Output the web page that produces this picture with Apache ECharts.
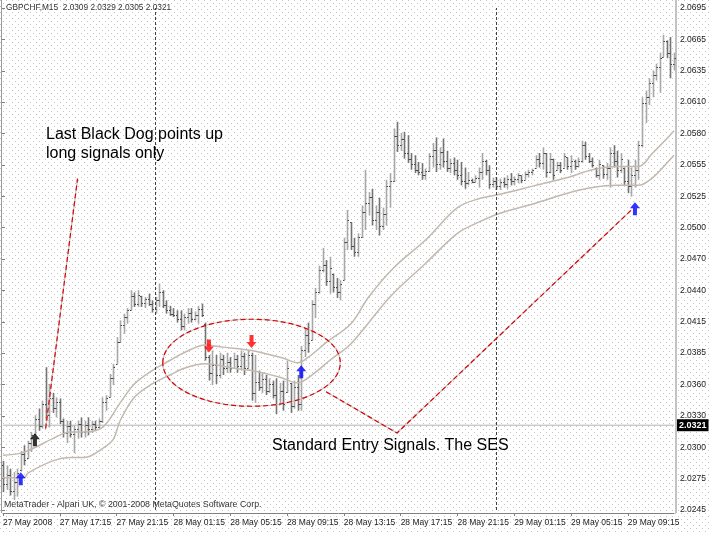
<!DOCTYPE html>
<html><head><meta charset="utf-8">
<script src="https://cdn.jsdelivr.net/npm/echarts@6/dist/echarts.min.js"></script>
<style>html,body{margin:0;padding:0;background:#fff}#c{width:710px;height:533px}</style>
</head><body><div id="c"></div>
<script>
// ---- data (GBPCHF M15, 27 May 2008 13:15 onward) ----
const opens = [
2.0285,2.0268,2.0276,2.0262,2.0270,2.0281,2.0295,2.0292,2.0305,2.0313,
2.0327,2.0320,2.0340,2.0330,2.0345,2.0336,2.0342,2.0325,2.0314,2.0320,
2.0313,2.0318,2.0322,2.0315,2.0321,2.0318,2.0322,2.0319,2.0325,2.0342,
2.0346,2.0363,2.0376,2.0396,2.0411,2.0418,2.0424,2.0437,2.0430,2.0437,
2.0431,2.0434,2.0430,2.0425,2.0433,2.0440,2.0429,2.0424,2.0421,2.0420,
2.0416,2.0410,2.0418,2.0422,2.0416,2.0420,2.0425,2.0412,2.0382,2.0368,
2.0375,2.0366,2.0380,2.0372,2.0378,2.0372,2.0380,2.0374,2.0383,2.0372,
2.0384,2.0350,2.0360,2.0355,2.0362,2.0352,2.0358,2.0348,2.0340,2.0352,
2.0351,2.0359,2.0338,2.0355,2.0340,2.0388,2.0402,2.0397,2.0430,2.0440,
2.0460,2.0465,2.0450,2.0457,2.0445,2.0440,2.0451,2.0485,2.0503,2.0482,
2.0476,2.0490,2.0512,2.0520,2.0526,2.0505,2.0512,2.0500,2.0510,2.0535,
2.0540,2.0580,2.0572,2.0578,2.0565,2.0560,2.0555,2.0550,2.0548,2.0545,
2.0549,2.0562,2.0568,2.0555,2.0566,2.0558,2.0552,2.0556,2.0550,2.0545,
2.0540,2.0538,2.0541,2.0539,2.0543,2.0548,2.0558,2.0550,2.0537,2.0540,
2.0535,2.0539,2.0537,2.0542,2.0540,2.0542,2.0545,2.0541,2.0546,2.0548,
2.0552,2.0560,2.0556,2.0565,2.0548,2.0560,2.0550,2.0554,2.0552,2.0561,
2.0553,2.0558,2.0553,2.0558,2.0572,2.0562,2.0558,2.0552,2.0545,2.0554,
2.0546,2.0552,2.0565,2.0558,2.0550,2.0552,2.0540,2.0535,2.0545,2.0550,
2.0572,2.0610,2.0615,2.0628,2.0635,2.0642,2.0651,2.0665,2.0655,2.0645];
const highs = [
2.0289,2.0285,2.0282,2.0279,2.0282,2.0298,2.0303,2.0307,2.0315,2.0330,
2.0336,2.0343,2.0373,2.0358,2.0350,2.0346,2.0345,2.0327,2.0325,2.0325,
2.0321,2.0325,2.0328,2.0325,2.0328,2.0325,2.0325,2.0327,2.0346,2.0348,
2.0367,2.0376,2.0400,2.0415,2.0421,2.0426,2.0442,2.0440,2.0442,2.0437,
2.0436,2.0439,2.0433,2.0436,2.0448,2.0442,2.0433,2.0428,2.0426,2.0424,
2.0424,2.0421,2.0426,2.0426,2.0423,2.0428,2.0430,2.0413,2.0384,2.0388,
2.0384,2.0386,2.0384,2.0386,2.0382,2.0386,2.0384,2.0388,2.0386,2.0388,
2.0386,2.0384,2.0370,2.0368,2.0366,2.0363,2.0361,2.0363,2.0359,2.0361,
2.0379,2.0359,2.0361,2.0366,2.0392,2.0408,2.0413,2.0433,2.0444,2.0464,
2.0480,2.0469,2.0472,2.0457,2.0453,2.0451,2.0489,2.0514,2.0503,2.0489,
2.0493,2.0518,2.0550,2.0530,2.0533,2.0518,2.0525,2.0516,2.0541,2.0547,
2.0587,2.0593,2.0583,2.0584,2.0581,2.0565,2.0563,2.0557,2.0556,2.0551,
2.0565,2.0574,2.0579,2.0570,2.0578,2.0567,2.0560,2.0561,2.0559,2.0557,
2.0552,2.0548,2.0542,2.0545,2.0552,2.0565,2.0559,2.0554,2.0543,2.0543,
2.0542,2.0543,2.0545,2.0547,2.0544,2.0547,2.0545,2.0548,2.0550,2.0551,
2.0563,2.0565,2.0570,2.0565,2.0565,2.0560,2.0557,2.0557,2.0565,2.0561,
2.0563,2.0559,2.0561,2.0576,2.0575,2.0565,2.0561,2.0552,2.0559,2.0554,
2.0556,2.0570,2.0572,2.0567,2.0565,2.0552,2.0559,2.0552,2.0559,2.0576,
2.0615,2.0621,2.0632,2.0639,2.0645,2.0655,2.0671,2.0666,2.0669,2.0655];
const lows = [
2.0261,2.0263,2.0258,2.0254,2.0257,2.0280,2.0285,2.0291,2.0297,2.0312,
2.0316,2.0318,2.0325,2.0319,2.0332,2.0328,2.0322,2.0310,2.0305,2.0310,
2.0296,2.0309,2.0310,2.0310,2.0312,2.0314,2.0316,2.0318,2.0323,2.0334,
2.0346,2.0357,2.0376,2.0395,2.0403,2.0412,2.0424,2.0427,2.0427,2.0427,
2.0426,2.0428,2.0422,2.0421,2.0427,2.0426,2.0421,2.0419,2.0418,2.0413,
2.0406,2.0406,2.0412,2.0413,2.0415,2.0412,2.0418,2.0379,2.0361,2.0357,
2.0358,2.0363,2.0366,2.0368,2.0368,2.0372,2.0368,2.0370,2.0366,2.0372,
2.0343,2.0341,2.0352,2.0350,2.0348,2.0350,2.0345,2.0331,2.0339,2.0334,
2.0350,2.0332,2.0336,2.0334,2.0334,2.0382,2.0386,2.0397,2.0417,2.0439,
2.0458,2.0446,2.0439,2.0440,2.0435,2.0433,2.0451,2.0478,2.0478,2.0472,
2.0472,2.0489,2.0496,2.0509,2.0500,2.0496,2.0491,2.0496,2.0500,2.0516,
2.0539,2.0566,2.0567,2.0560,2.0556,2.0550,2.0547,2.0545,2.0541,2.0541,
2.0548,2.0552,2.0548,2.0550,2.0552,2.0548,2.0547,2.0545,2.0541,2.0536,
2.0533,2.0536,2.0538,2.0539,2.0534,2.0541,2.0545,2.0533,2.0534,2.0532,
2.0532,2.0534,2.0533,2.0536,2.0536,2.0538,2.0538,2.0541,2.0543,2.0545,
2.0552,2.0552,2.0550,2.0543,2.0547,2.0541,2.0550,2.0547,2.0552,2.0550,
2.0547,2.0550,2.0552,2.0556,2.0559,2.0556,2.0552,2.0543,2.0541,2.0542,
2.0541,2.0534,2.0552,2.0543,2.0547,2.0536,2.0529,2.0526,2.0534,2.0541,
2.0570,2.0592,2.0608,2.0615,2.0630,2.0619,2.0651,2.0650,2.0632,2.0639];
const closes = [
2.0268,2.0276,2.0262,2.0270,2.0278,2.0295,2.0290,2.0305,2.0312,2.0327,
2.0320,2.0340,2.0330,2.0345,2.0336,2.0342,2.0325,2.0314,2.0320,2.0313,
2.0318,2.0322,2.0315,2.0321,2.0318,2.0322,2.0319,2.0325,2.0342,2.0345,
2.0363,2.0373,2.0396,2.0411,2.0418,2.0424,2.0437,2.0430,2.0438,2.0431,
2.0434,2.0430,2.0425,2.0433,2.0440,2.0429,2.0424,2.0421,2.0420,2.0416,
2.0410,2.0418,2.0422,2.0416,2.0420,2.0425,2.0420,2.0382,2.0368,2.0375,
2.0366,2.0380,2.0372,2.0378,2.0372,2.0380,2.0374,2.0383,2.0372,2.0384,
2.0350,2.0360,2.0355,2.0362,2.0352,2.0358,2.0348,2.0340,2.0352,2.0340,
2.0372,2.0338,2.0355,2.0340,2.0388,2.0402,2.0395,2.0430,2.0440,2.0460,
2.0465,2.0450,2.0462,2.0445,2.0440,2.0448,2.0485,2.0505,2.0482,2.0476,
2.0490,2.0512,2.0520,2.0526,2.0505,2.0512,2.0500,2.0510,2.0535,2.0540,
2.0580,2.0572,2.0578,2.0565,2.0560,2.0555,2.0550,2.0548,2.0545,2.0549,
2.0562,2.0568,2.0555,2.0566,2.0558,2.0552,2.0556,2.0550,2.0545,2.0540,
2.0538,2.0541,2.0539,2.0543,2.0548,2.0558,2.0550,2.0537,2.0540,2.0535,
2.0539,2.0537,2.0542,2.0540,2.0542,2.0545,2.0541,2.0546,2.0548,2.0550,
2.0560,2.0556,2.0565,2.0548,2.0560,2.0545,2.0554,2.0550,2.0562,2.0553,
2.0558,2.0553,2.0558,2.0572,2.0562,2.0558,2.0554,2.0545,2.0555,2.0546,
2.0552,2.0565,2.0558,2.0550,2.0560,2.0540,2.0535,2.0545,2.0550,2.0572,
2.0610,2.0615,2.0628,2.0635,2.0642,2.0650,2.0665,2.0655,2.0645,2.0650];

// Black Dog bands: [bar index, price]
const upperBand = [[0,2.0294],[5,2.0296],[9,2.0301],[14,2.0309],[19,2.0315],[23,2.0315],[28,2.0319],[33,2.0341],[37,2.0358],[42,2.0370],[47,2.0379],[51,2.0386],[57,2.0393],[62,2.0391],[70,2.0388],[79,2.0381],[83,2.0377],[86,2.0382],[91,2.0395],[98,2.0412],[103,2.0436],[110,2.0462],[119,2.0487],[128,2.0516],[134,2.0524],[140,2.0528],[150,2.0536],[159,2.0543],[166,2.0550],[173,2.0553],[179,2.0553],[183,2.0565],[187,2.0578],[189,2.0585]];
const lowerBand = [[0,2.0274],[6,2.0274],[7,2.0278],[14,2.0289],[19,2.0292],[23,2.0292],[28,2.0300],[31,2.0308],[33,2.0325],[37,2.0346],[42,2.0358],[47,2.0366],[51,2.0372],[57,2.0376],[65,2.0372],[70,2.0370],[78,2.0364],[83,2.0359],[87,2.0366],[92,2.0379],[98,2.0394],[109,2.0436],[119,2.0466],[128,2.0493],[134,2.0503],[140,2.0511],[150,2.0520],[159,2.0529],[166,2.0534],[173,2.0536],[179,2.0536],[183,2.0543],[187,2.0556],[189,2.0563]];

// signal arrows: [bar index, price]
const blueUp = [[5,2.0273],[84,2.0369],[178,2.0515]];
const blackUp = [[9,2.0308]];
const redDown = [[58,2.0392],[70,2.0396]];

const currentPrice = 2.0321;
const daySeparators = [43, 139];
const priceTicks = ['2.0245','2.0275','2.0300','2.0330','2.0360','2.0385','2.0415','2.0440','2.0470','2.0500','2.0525','2.0555','2.0580','2.0610','2.0635','2.0665','2.0695'];
const timeTicks = ['27 May 2008','27 May 17:15','27 May 21:15','28 May 01:15','28 May 05:15','28 May 09:15','28 May 13:15','28 May 17:15','28 May 21:15','29 May 01:15','29 May 05:15','29 May 09:15'];

// ---- chart ----
const N = opens.length;
const startMs = Date.UTC(2008,4,27,13,15);
const pad = n => (n<10?'0':'')+n;
const times = [];
for (let i=0;i<N;i++){ const d=new Date(startMs+i*900000); times.push(d.getUTCDate()+' May '+pad(d.getUTCHours())+':'+pad(d.getUTCMinutes())); }

const pat = document.createElement('canvas'); pat.width=6; pat.height=6;
const g2 = pat.getContext('2d'); g2.fillStyle='#ffffff'; g2.fillRect(0,0,6,6);
g2.fillStyle='#c4c4c4'; g2.fillRect(0,0,1,1); g2.fillRect(3,3,1,1);

const UP='#a8a8a8', DOWN='#747474', TICK='#4a4a4a';
const FONT='"Liberation Sans", Arial, sans-serif';
const arrowPath='path://M5,0L10,6L7,6L7,13L3,13L3,6L0,6Z';

const chart = echarts.init(document.getElementById('c'), null, {renderer:'canvas'});
const option = {
  animation:false,
  backgroundColor:{image:pat, repeat:'repeat'},
  grid:[{left:2,right:36,top:8,bottom:23},{left:2,right:34,top:8,bottom:23}],
  xAxis:[
    {type:'category', gridIndex:0, data:times, boundaryGap:false, offset:3,
     axisLine:{lineStyle:{color:'#808080'}},
     axisTick:{interval:15, length:3, lineStyle:{color:'#808080'}},
     axisLabel:{interval:15, align:'left', margin:5, fontSize:8.5, fontFamily:FONT, color:'#222',
       formatter:(v,idx)=>timeTicks[Math.round(idx/16)]||''},
     splitLine:{show:false}},
    {type:'value', gridIndex:1, show:false, min:0, max:1}
  ],
  yAxis:[
    {type:'value', gridIndex:0, min:2.0245, max:2.0695, show:false, splitLine:{show:false}},
    {type:'category', gridIndex:1, data:priceTicks, boundaryGap:false, position:'right',
     axisLine:{show:false}, axisTick:{show:true, length:3, lineStyle:{color:'#808080'}},
     axisLabel:{margin:4, fontSize:8.5, fontFamily:FONT, color:'#222'}, splitLine:{show:false}}
  ],
  series:[
    {type:'line', name:'price line', data:[[0,currentPrice],[N-1,currentPrice]], showSymbol:false, z:1,
     lineStyle:{color:'#b4b4b4', width:1},
     endLabel:{show:true, distance:3, formatter:currentPrice.toFixed(4),
       backgroundColor:'#000', color:'#fff', fontSize:9, fontWeight:'bold', fontFamily:FONT, padding:[2,2,1,2]},
     markLine:{silent:true, symbol:['none','none'], animation:false, label:{show:false},
       lineStyle:{color:'#404040', type:[3,2], width:1},
       data: daySeparators.map(d=>({xAxis:d}))}
    },
    {type:'custom', name:'GBPCHF', xAxisIndex:0, yAxisIndex:0, z:2,
     data: opens.map((o,i)=>[i,o,highs[i],lows[i],closes[i]]),
     encode:{x:0, y:[1,2,3,4]},
     renderItem:(params, api)=>{
       const i=api.value(0);
       const o=api.coord([i,api.value(1)]), h=api.coord([i,api.value(2)]),
             l=api.coord([i,api.value(3)]), c=api.coord([i,api.value(4)]);
       const x=Math.round(h[0])+0.5;
       const col = api.value(4)>=api.value(1)?UP:DOWN;
       const oy=Math.round(o[1])+0.5, cy=Math.round(c[1])+0.5;
       return {type:'group', children:[
         {type:'line', shape:{x1:x,y1:h[1],x2:x,y2:l[1]}, style:{stroke:col,lineWidth:1.6}},
         {type:'line', shape:{x1:x-1.5,y1:oy,x2:x,y2:oy}, style:{stroke:TICK,lineWidth:1}},
         {type:'line', shape:{x1:x,y1:cy,x2:x+1.5,y2:cy}, style:{stroke:TICK,lineWidth:1}}
       ]};
     }
    },
    {type:'line', name:'Black Dog high', data:upperBand, smooth:0.35, showSymbol:false, z:3,
     lineStyle:{color:'#c2b9b0', width:1.5}},
    {type:'line', name:'Black Dog low', data:lowerBand, smooth:0.35, showSymbol:false, z:3,
     lineStyle:{color:'#c2b9b0', width:1.5}},
    {type:'scatter', name:'long', data:blueUp, symbol:arrowPath, symbolSize:[10,13], itemStyle:{color:'#0000ff'}, z:5},
    {type:'scatter', name:'dog', data:blackUp, symbol:arrowPath, symbolSize:[10,13], itemStyle:{color:'#000000'}, z:5},
    {type:'scatter', name:'short', data:redDown, symbol:arrowPath, symbolSize:[10,13], symbolRotate:180, itemStyle:{color:'#ff0000'}, z:5}
  ]
};
chart.setOption(option);

// ---- annotations anchored in data space ----
const dogLine = [[11.5,2.0318],[20.5,2.0542]];
const sesLine = [[91.4,2.0351],[110.5,2.0314],[176.9,2.0514]];
const ellipseCenter = [69.7,2.0377], ellipseHalf = [25.6,0.0039];
const P = pt => chart.convertToPixel({gridIndex:0}, pt);
const pts = arr => arr.map(P);
const ec = P(ellipseCenter), ee = P([ellipseCenter[0]+ellipseHalf[0], ellipseCenter[1]+ellipseHalf[1]]);
const redDash = {stroke:'#e00000', lineWidth:1.2, lineDash:[5,3], fill:null};
const grayLn = {stroke:'#c4c4c4', lineWidth:1.2, fill:null};
chart.setOption({graphic:[
  {type:'line', silent:true, shape:{x1:1.5,y1:0,x2:1.5,y2:513}, style:{stroke:'#9a9a9a',lineWidth:1}},
  {type:'line', silent:true, shape:{x1:676,y1:0,x2:676,y2:513}, style:{stroke:'#c2c2c2',lineWidth:2}},
  {type:'polyline', silent:true, shape:{points:pts(dogLine)}, style:grayLn, z:10},
  {type:'polyline', silent:true, shape:{points:pts(dogLine)}, style:redDash, z:11},
  {type:'polyline', silent:true, shape:{points:pts(sesLine)}, style:grayLn, z:10},
  {type:'polyline', silent:true, shape:{points:pts(sesLine)}, style:redDash, z:11},
  {type:'ellipse', silent:true, shape:{cx:ec[0],cy:ec[1],rx:Math.abs(ee[0]-ec[0]),ry:Math.abs(ee[1]-ec[1])}, style:grayLn, z:10},
  {type:'ellipse', silent:true, shape:{cx:ec[0],cy:ec[1],rx:Math.abs(ee[0]-ec[0]),ry:Math.abs(ee[1]-ec[1])}, style:redDash, z:11},
  {type:'text', silent:true, x:6, y:4, style:{text:'GBPCHF,M15  2.0309 2.0329 2.0305 2.0321', font:'8.3px '+FONT, fill:'#333'}, z:12},
  {type:'text', silent:true, x:4, y:500, style:{text:'MetaTrader - Alpari UK, \u00a9 2001-2008 MetaQuotes Software Corp.', font:'8.8px '+FONT, fill:'#333'}, z:12},
  {type:'text', silent:true, x:46, y:127, style:{text:'Last Black Dog points up', font:'16px '+FONT, fill:'#000'}, z:12},
  {type:'text', silent:true, x:46, y:146, style:{text:'long signals only', font:'16px '+FONT, fill:'#000'}, z:12},
  {type:'text', silent:true, x:272, y:438, style:{text:'Standard Entry Signals. The SES', font:'16px '+FONT, fill:'#000'}, z:12}
]});
</script></body></html>
